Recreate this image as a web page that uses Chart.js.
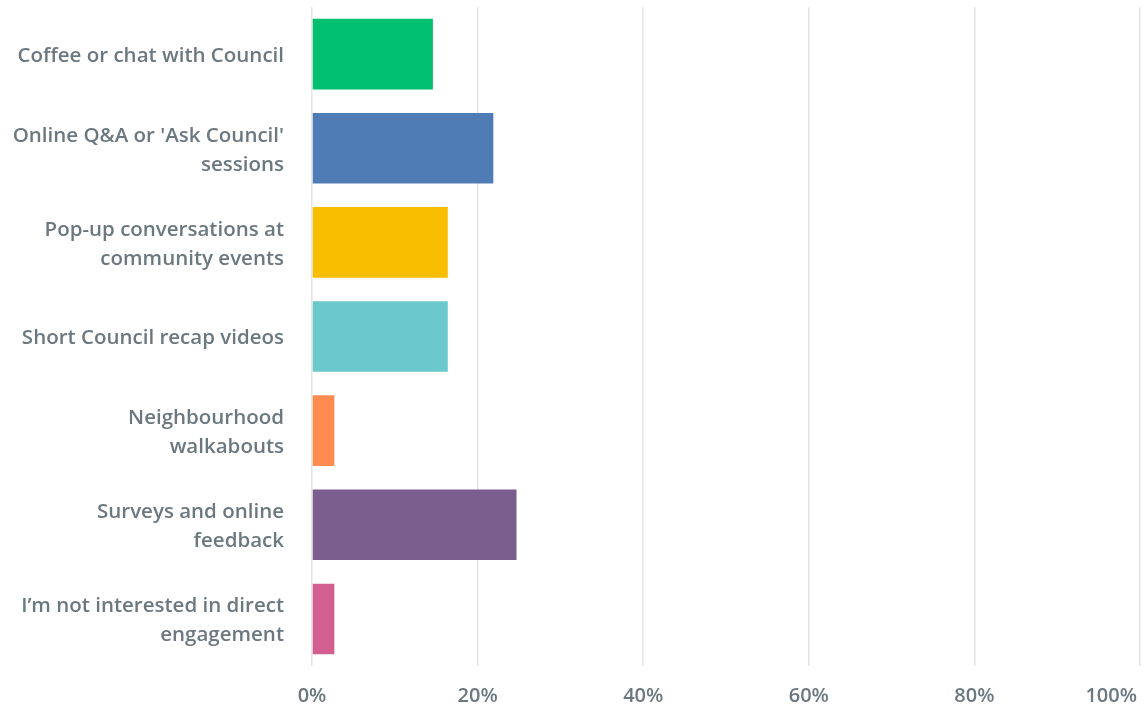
<!DOCTYPE html>
<html>
<head>
<meta charset="utf-8">
<script src="https://cdn.jsdelivr.net/npm/chart.js@4/dist/chart.umd.min.js"></script>
<style>
  html, body { margin: 0; padding: 0; background: #fff; }
  canvas { display: block; }
</style>
</head>
<body>
<canvas id="engagementChart" width="1146" height="708"></canvas>
<script>
// Answer choices (multi-line where the label wraps)
const choices = [
    'Coffee or chat with Council',
    ["Online Q&A or 'Ask Council'", 'sessions'],
    ['Pop-up conversations at', 'community events'],
    'Short Council recap videos',
    ['Neighbourhood', 'walkabouts'],
    ['Surveys and online', 'feedback'],
    ['I\u2019m not interested in direct', 'engagement']
];

// Share of respondents (%)
const shares = [14.6, 21.9, 16.4, 16.4, 2.7, 24.7, 2.7];

const barColors = ['#00bf6f', '#507cb6', '#f9be00', '#6bc8cd', '#ff8b4f', '#7b5e8e', '#d25f90'];

// x axis ticks
const xTicks = [0, 20, 40, 60, 80, 100];

const textColor = '#6b787f';
const fontFamily = "'Open Sans', sans-serif";

// Draws the percent labels under the chart, keeping the last one inside the canvas
const xLabelsPlugin = {
    id: 'xLabels',
    afterDraw(chart) {
        const { ctx, chartArea, scales } = chart;
        ctx.save();
        ctx.font = '600 20px ' + fontFamily;
        ctx.fillStyle = textColor;
        ctx.textBaseline = 'middle';
        xTicks.forEach(v => {
            const label = v + '%';
            const w = ctx.measureText(label).width;
            let x = scales.x.getPixelForValue(v) - w / 2;
            if (x + w > chart.width - 9) x = chart.width - 9 - w;
            ctx.fillText(label, x, chartArea.bottom + 30);
        });
        ctx.restore();
    }
};

const ctx = document.getElementById('engagementChart').getContext('2d');
new Chart(ctx, {
    type: 'bar',
    data: {
        labels: choices,
        datasets: [{
            data: shares,
            backgroundColor: barColors,
            borderWidth: 0,
            barPercentage: 0.75,
            categoryPercentage: 1
        }]
    },
    options: {
        indexAxis: 'y',
        responsive: false,
        animation: false,
        layout: { padding: { top: 7, right: 6, left: 0, bottom: 0 } },
        scales: {
            x: {
                min: 0,
                max: 100,
                afterBuildTicks: scale => { scale.ticks = xTicks.map(v => ({ value: v })); },
                afterFit: scale => { scale.height = 42; scale.paddingLeft = 0; scale.paddingRight = 0; },
                ticks: { display: false },
                grid: { color: '#e4e4e4', lineWidth: 1.5, drawTicks: false },
                border: { display: false }
            },
            y: {
                afterFit: scale => {
                    scale.width = 312;
                    scale.paddingTop = 0;
                    scale.paddingBottom = 0;
                },
                ticks: {
                    color: textColor,
                    padding: 28,
                    labelOffset: 2,
                    font: { family: fontFamily, size: 20.5, weight: '600', lineHeight: 1.42 }
                },
                grid: { display: false, drawTicks: false },
                border: { display: false }
            }
        },
        plugins: {
            legend: { display: false },
            tooltip: { enabled: false }
        }
    },
    plugins: [xLabelsPlugin]
});
</script>
</body>
</html>
